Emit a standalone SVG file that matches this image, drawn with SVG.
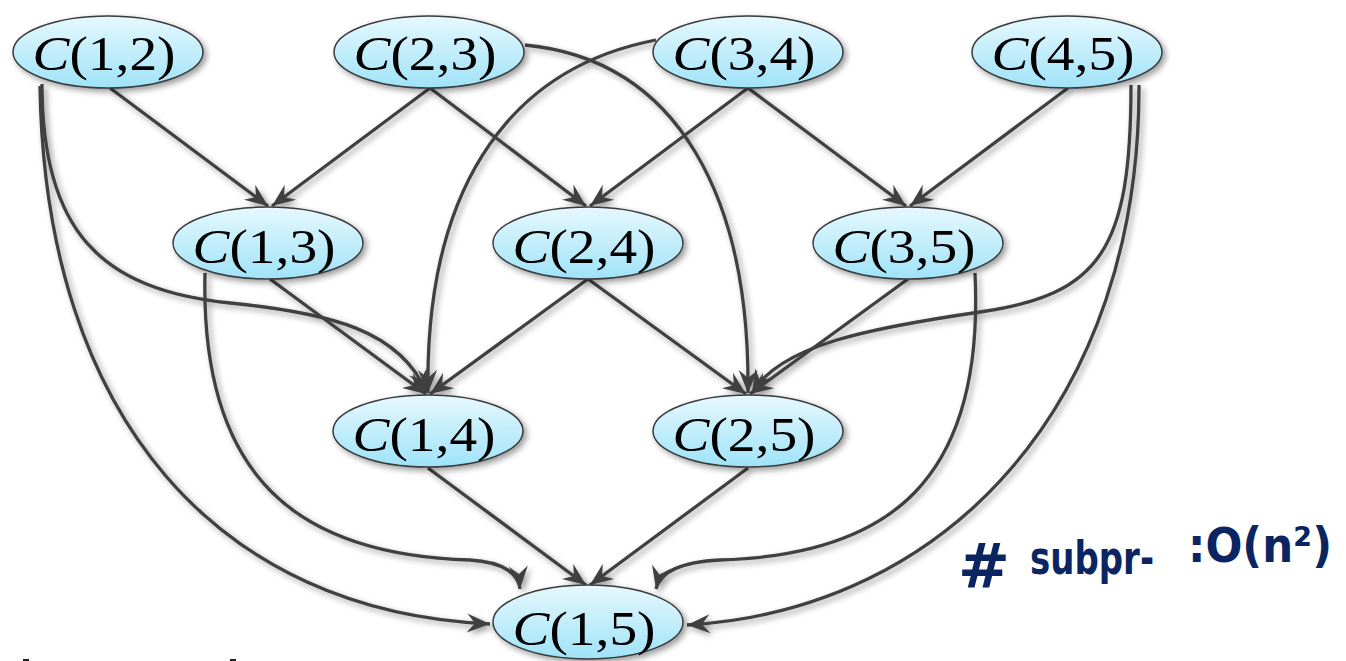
<svg xmlns="http://www.w3.org/2000/svg" width="1346" height="661" viewBox="0 0 1346 661">
  <defs>
    <linearGradient id="nodeFill" x1="0" y1="0" x2="0" y2="1">
      <stop offset="0" stop-color="#e6f8fd"/>
      <stop offset="1" stop-color="#9fe3f8"/>
    </linearGradient>
    <filter id="shadow" x="-20%" y="-20%" width="140%" height="140%">
      <feGaussianBlur in="SourceAlpha" stdDeviation="3"/>
      <feOffset dx="3" dy="3" result="b"/>
      <feComponentTransfer><feFuncA type="linear" slope="0.4"/></feComponentTransfer>
      <feMerge><feMergeNode/><feMergeNode in="SourceGraphic"/></feMerge>
    </filter>
    <marker id="arrow" markerUnits="userSpaceOnUse" markerWidth="28" markerHeight="22" viewBox="-25 -11 26 22" refX="0" refY="0" orient="auto">
      <path d="M0,0 L-23,-9.5 L-15,0 L-23,9.5 Z" fill="#404040"/>
    </marker>
  </defs>
  <style>
    .edge { fill: none; stroke: #404040; stroke-width: 3.3; marker-end: url(#arrow); }
    .node ellipse { fill: url(#nodeFill); stroke: #3a3a3a; stroke-width: 1.5; }
    .node text { font-family: "Liberation Serif", "DejaVu Serif", serif; font-size: 48px; fill: #000; text-anchor: middle; }
    .node .v { font-style: italic; }
    .hand { font-family: "DejaVu Sans", "Liberation Sans", sans-serif; font-weight: bold; fill: #0b2462; }
  </style>

  <!-- connectors -->
  <g id="connectors" filter="url(#shadow)">
    <!-- row 1 to row 2 -->
    <path class="edge" d="M110,88 L268,206"/>
    <path class="edge" d="M430,88 L272,206"/>
    <path class="edge" d="M430,88 L586,206"/>
    <path class="edge" d="M748,88 L590,206"/>
    <path class="edge" d="M748,88 L906,206"/>
    <path class="edge" d="M1068,88 L910,206"/>
    <!-- row 2 to row 3 -->
    <path class="edge" d="M270,279 L426,394"/>
    <path class="edge" d="M588,279 L430,394"/>
    <path class="edge" d="M588,279 L746,394"/>
    <path class="edge" d="M908,279 L750,394"/>
    <!-- row 3 to row 4 -->
    <path class="edge" d="M428,468 L586,585"/>
    <path class="edge" d="M748,468 L590,585"/>
    <!-- long curved edges -->
    <path class="edge" d="M42,84 C 42,230 100,290 230,303 C 330,313 400,330 427,393"/>
    <path class="edge" d="M40,86 C 45,420 220,612 490,624"/>
    <path class="edge" d="M205,273 C 200,480 300,555 470,560 C 505,562 519,575 520,589"/>
    <path class="edge" d="M656,40 C 500,70 425,200 428,393"/>
    <path class="edge" d="M525,45 C 680,60 750,200 748,393"/>
    <path class="edge" d="M1131,85 C 1131,250 1100,295 980,312 C 870,328 780,345 752,393"/>
    <path class="edge" d="M1139,85 C 1140,400 950,610 687,625"/>
    <path class="edge" d="M975,273 C 985,480 890,555 720,560 C 680,562 660,572 656,589"/>
  </g>

  <!-- nodes -->
  <g id="n12" class="node" filter="url(#shadow)">
    <ellipse cx="108" cy="52" rx="95" ry="36"/>
    <text x="104" y="70" textLength="143" lengthAdjust="spacingAndGlyphs"><tspan class="v">C</tspan>(1,2)</text>
  </g>
  <g id="n23" class="node" filter="url(#shadow)">
    <ellipse cx="429" cy="52" rx="95" ry="36"/>
    <text x="425" y="70" textLength="143" lengthAdjust="spacingAndGlyphs"><tspan class="v">C</tspan>(2,3)</text>
  </g>
  <g id="n34" class="node" filter="url(#shadow)">
    <ellipse cx="748" cy="52" rx="95" ry="36"/>
    <text x="744" y="70" textLength="143" lengthAdjust="spacingAndGlyphs"><tspan class="v">C</tspan>(3,4)</text>
  </g>
  <g id="n45" class="node" filter="url(#shadow)">
    <ellipse cx="1067" cy="52" rx="95" ry="36"/>
    <text x="1063" y="70" textLength="143" lengthAdjust="spacingAndGlyphs"><tspan class="v">C</tspan>(4,5)</text>
  </g>
  <g id="n13" class="node" filter="url(#shadow)">
    <ellipse cx="268" cy="243" rx="95" ry="36"/>
    <text x="264" y="263" textLength="143" lengthAdjust="spacingAndGlyphs"><tspan class="v">C</tspan>(1,3)</text>
  </g>
  <g id="n24" class="node" filter="url(#shadow)">
    <ellipse cx="588" cy="243" rx="95" ry="36"/>
    <text x="584" y="263" textLength="143" lengthAdjust="spacingAndGlyphs"><tspan class="v">C</tspan>(2,4)</text>
  </g>
  <g id="n35" class="node" filter="url(#shadow)">
    <ellipse cx="908" cy="243" rx="95" ry="36"/>
    <text x="904" y="263" textLength="143" lengthAdjust="spacingAndGlyphs"><tspan class="v">C</tspan>(3,5)</text>
  </g>
  <g id="n14" class="node" filter="url(#shadow)">
    <ellipse cx="428" cy="431" rx="95" ry="36"/>
    <text x="424" y="451" textLength="143" lengthAdjust="spacingAndGlyphs"><tspan class="v">C</tspan>(1,4)</text>
  </g>
  <g id="n25" class="node" filter="url(#shadow)">
    <ellipse cx="748" cy="431" rx="95" ry="36"/>
    <text x="744" y="451" textLength="143" lengthAdjust="spacingAndGlyphs"><tspan class="v">C</tspan>(2,5)</text>
  </g>
  <g id="n15" class="node" filter="url(#shadow)">
    <ellipse cx="588" cy="622" rx="95" ry="37"/>
    <text x="584" y="645" textLength="143" lengthAdjust="spacingAndGlyphs"><tspan class="v">C</tspan>(1,5)</text>
  </g>

  <!-- handwritten note -->
  <g id="note">
    <text class="hand" x="958" y="588" font-size="62">#</text>
    <text class="hand" x="1030" y="574" font-size="46" textLength="124" lengthAdjust="spacingAndGlyphs">subpr-</text>
    <text class="hand" x="1188" y="562" font-size="48" textLength="144" lengthAdjust="spacingAndGlyphs">:O(n²)</text>
  </g>

  <!-- small marks along the bottom edge -->
  <rect x="23" y="659" width="6" height="2" fill="#222"/>
  <rect x="230" y="659" width="6" height="2" fill="#222"/>
</svg>
